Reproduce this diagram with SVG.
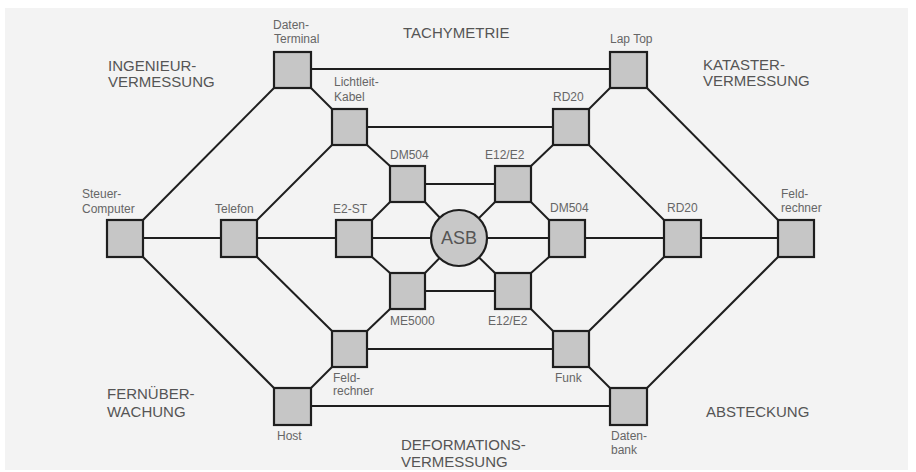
<svg xmlns="http://www.w3.org/2000/svg" width="916" height="472" viewBox="0 0 916 472">
<style>
.n{fill:#c6c6c6;stroke:#1e1e1e;stroke-width:2.2}
.c line{stroke:#1e1e1e;stroke-width:2}
.s{font-family:"Liberation Sans",Arial,sans-serif;font-size:12px;fill:#666}
.r{font-family:"Liberation Sans",Arial,sans-serif;font-size:15px;fill:#555}
</style>
<rect width="916" height="472" fill="#ffffff"/>
<rect x="5" y="8" width="903" height="462" fill="#f3f3f3"/>
<g id="connectors" class="c">
<line x1="311" y1="69" x2="610" y2="69"/>
<line x1="367" y1="127" x2="553" y2="127"/>
<line x1="425" y1="184" x2="495" y2="184"/>
<line x1="143" y1="238" x2="778" y2="238"/>
<line x1="425" y1="291" x2="495" y2="291"/>
<line x1="367" y1="349" x2="553" y2="349"/>
<line x1="311" y1="406" x2="610" y2="406"/>
<line x1="143" y1="220" x2="274" y2="88"/>
<line x1="143" y1="257" x2="274" y2="388"/>
<line x1="311" y1="88" x2="332" y2="109"/>
<line x1="311" y1="388" x2="332" y2="367"/>
<line x1="257" y1="220" x2="332" y2="145"/>
<line x1="257" y1="257" x2="332" y2="331"/>
<line x1="367" y1="145" x2="390" y2="166"/>
<line x1="367" y1="331" x2="390" y2="309"/>
<line x1="372" y1="220" x2="390" y2="202"/>
<line x1="372" y1="257" x2="390" y2="273"/>
<line x1="425" y1="202" x2="459" y2="238"/>
<line x1="495" y1="202" x2="459" y2="238"/>
<line x1="425" y1="273" x2="459" y2="238"/>
<line x1="495" y1="273" x2="459" y2="238"/>
<line x1="531" y1="202" x2="549" y2="220"/>
<line x1="531" y1="273" x2="549" y2="257"/>
<line x1="531" y1="166" x2="553" y2="145"/>
<line x1="531" y1="309" x2="553" y2="331"/>
<line x1="589" y1="145" x2="664" y2="220"/>
<line x1="589" y1="331" x2="664" y2="257"/>
<line x1="589" y1="109" x2="610" y2="88"/>
<line x1="589" y1="367" x2="610" y2="388"/>
<line x1="647" y1="88" x2="778" y2="220"/>
<line x1="647" y1="388" x2="778" y2="257"/>
</g>
<g id="daten-terminal"><rect class="n" x="274" y="52" width="37" height="36"/><text class="s" x="273" y="29">Daten-</text><text class="s" x="274" y="43">Terminal</text></g>
<g id="laptop"><rect class="n" x="610" y="52" width="37" height="36"/><text class="s" x="610" y="43">Lap Top</text></g>
<g id="lichtleit-kabel"><rect class="n" x="332" y="109" width="35" height="36"/><text class="s" x="334" y="86">Lichtleit-</text><text class="s" x="334" y="101">Kabel</text></g>
<g id="rd20-upper"><rect class="n" x="553" y="109" width="36" height="36"/><text class="s" x="553" y="101">RD20</text></g>
<g id="dm504-left"><rect class="n" x="390" y="166" width="35" height="36"/><text class="s" x="390" y="159">DM504</text></g>
<g id="e12e2-upper"><rect class="n" x="495" y="166" width="36" height="36"/><text class="s" x="485" y="159">E12/E2</text></g>
<g id="steuer-computer"><rect class="n" x="107" y="220" width="36" height="37"/><text class="s" x="82" y="198">Steuer-</text><text class="s" x="82" y="213">Computer</text></g>
<g id="telefon"><rect class="n" x="221" y="220" width="36" height="37"/><text class="s" x="215" y="213">Telefon</text></g>
<g id="e2-st"><rect class="n" x="336" y="220" width="36" height="37"/><text class="s" x="333" y="213">E2-ST</text></g>
<g id="asb"><circle cx="459" cy="238" r="28" fill="#c8c8c8" stroke="#1e1e1e" stroke-width="2.2"/><text x="459" y="244" text-anchor="middle" font-family="Liberation Sans, Arial, sans-serif" font-size="18" fill="#555">ASB</text></g>
<g id="dm504-right"><rect class="n" x="549" y="220" width="36" height="37"/><text class="s" x="550" y="212">DM504</text></g>
<g id="rd20-right"><rect class="n" x="664" y="220" width="37" height="37"/><text class="s" x="667" y="212">RD20</text></g>
<g id="feldrechner-right"><rect class="n" x="778" y="220" width="36" height="37"/><text class="s" x="781" y="198">Feld-</text><text class="s" x="781" y="212">rechner</text></g>
<g id="me5000"><rect class="n" x="390" y="273" width="35" height="36"/><text class="s" x="390" y="325">ME5000</text></g>
<g id="e12e2-lower"><rect class="n" x="495" y="273" width="36" height="36"/><text class="s" x="488" y="325">E12/E2</text></g>
<g id="feldrechner-left"><rect class="n" x="332" y="331" width="35" height="36"/><text class="s" x="333" y="382">Feld-</text><text class="s" x="333" y="395">rechner</text></g>
<g id="funk"><rect class="n" x="553" y="331" width="36" height="36"/><text class="s" x="555" y="382">Funk</text></g>
<g id="host"><rect class="n" x="274" y="388" width="37" height="37"/><text class="s" x="277" y="440">Host</text></g>
<g id="datenbank"><rect class="n" x="610" y="388" width="37" height="37"/><text class="s" x="611" y="440">Daten-</text><text class="s" x="611" y="454">bank</text></g>
<g id="regions">
<text class="r" x="108" y="71">INGENIEUR-</text><text class="r" x="108" y="87">VERMESSUNG</text>
<text class="r" x="403" y="38">TACHYMETRIE</text>
<text class="r" x="703" y="70">KATASTER-</text><text class="r" x="703" y="86">VERMESSUNG</text>
<text class="r" x="107" y="399">FERNÜBER-</text><text class="r" x="107" y="417">WACHUNG</text>
<text class="r" x="401" y="450">DEFORMATIONS-</text><text class="r" x="401" y="467">VERMESSUNG</text>
<text class="r" x="706" y="417">ABSTECKUNG</text>
</g>
</svg>
